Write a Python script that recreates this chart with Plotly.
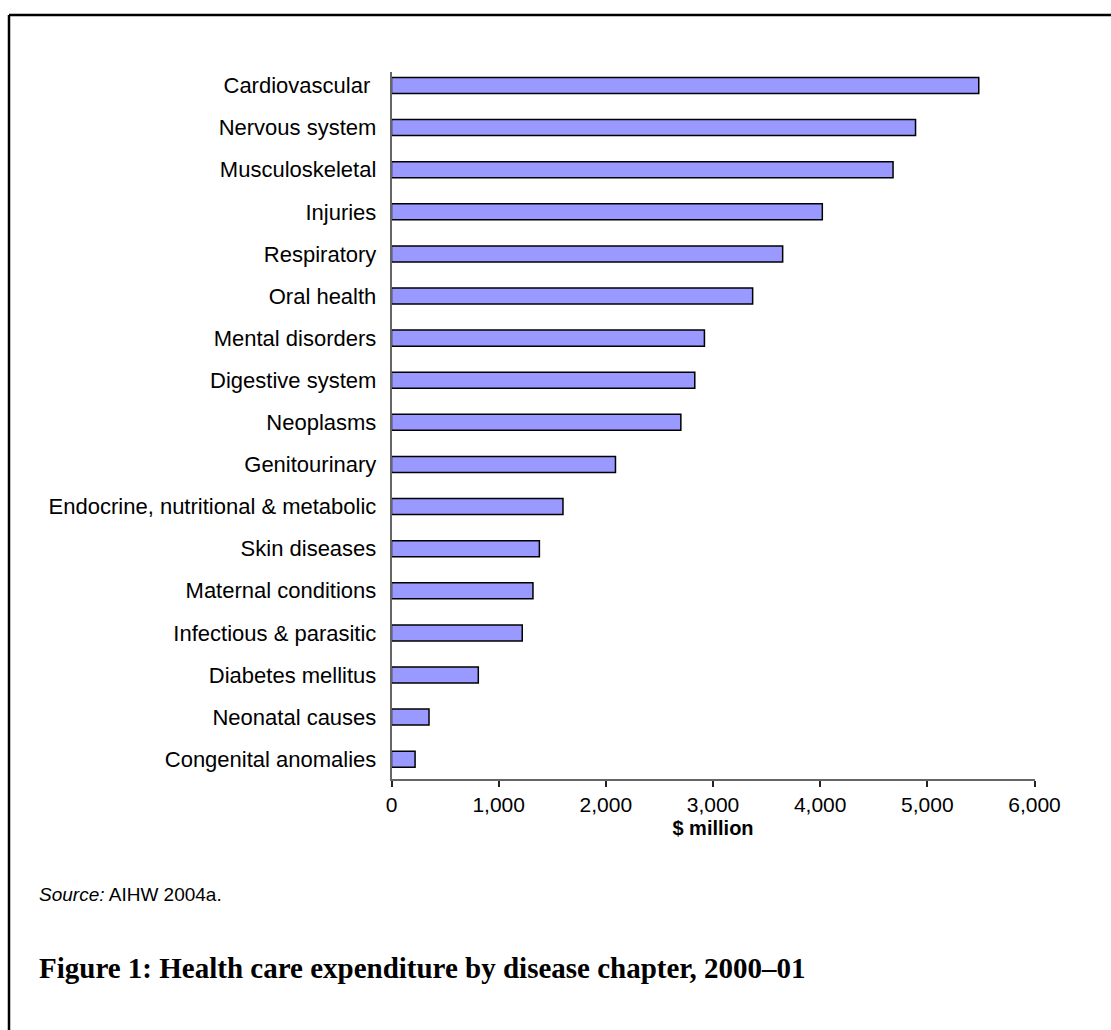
import plotly.graph_objects as go

categories = [
    "Cardiovascular ", "Nervous system", "Musculoskeletal", "Injuries", "Respiratory",
    "Oral health", "Mental disorders", "Digestive system", "Neoplasms", "Genitourinary",
    "Endocrine, nutritional & metabolic", "Skin diseases", "Maternal conditions",
    "Infectious & parasitic", "Diabetes mellitus", "Neonatal causes", "Congenital anomalies",
]
values = [5480, 4890, 4680, 4020, 3650, 3370, 2920, 2830, 2700, 2090,
          1600, 1380, 1320, 1220, 810, 350, 220]
tick_vals = [0, 1000, 2000, 3000, 4000, 5000, 6000]
tick_text = ["0", "1,000", "2,000", "3,000", "4,000", "5,000", "6,000"]

W, H = 1111, 1030
cats_plot = categories[::-1]
vals_plot = values[::-1]

fig = go.Figure(go.Bar(
    x=vals_plot, y=cats_plot, orientation="h",
    width=0.38,
    marker=dict(color="#9999FF", line=dict(color="#000000", width=1.5)),
    hoverinfo="x+y",
))

x0, x1 = 391.5, 1034.5
ytop, ybot = 72, 779

fig.update_layout(
    width=W, height=H,
    margin=dict(l=0, r=0, t=0, b=0),
    paper_bgcolor="white", plot_bgcolor="white",
    showlegend=False,
    font=dict(family="Liberation Sans, Arial, sans-serif", color="#000000"),
    xaxis=dict(
        domain=[x0 / W, x1 / W], range=[0, 6000],
        tickvals=tick_vals, ticktext=tick_text,
        showgrid=False, zeroline=False,
        showline=True, linecolor="#666666", linewidth=1.5,
        ticks="outside", ticklen=6, tickwidth=1.5, tickcolor="#222222",
        tickfont=dict(size=21), automargin=False,
        title=dict(text="<b>$ million</b>", font=dict(size=20), standoff=6),
    ),
    yaxis=dict(
        domain=[(H - ybot) / H, (H - ytop) / H],
        type="category", categoryorder="array", categoryarray=cats_plot,
        range=[-0.47, 16.32],
        showgrid=False, zeroline=False,
        showline=True, linecolor="#666666", linewidth=1.5,
        ticks="", ticklabelstandoff=9,
        tickfont=dict(size=22), automargin=False,
    ),
)

# frame
fig.add_shape(type="line", xref="paper", yref="paper",
              x0=9 / W, x1=1.0, y0=(H - 15) / H, y1=(H - 15) / H,
              line=dict(color="#000000", width=2.5))
fig.add_shape(type="line", xref="paper", yref="paper",
              x0=9 / W, x1=9 / W, y0=0, y1=(H - 15) / H,
              line=dict(color="#000000", width=2.5))

fig.add_annotation(xref="paper", yref="paper", x=37 / W, y=(H - 894) / H,
                   xanchor="left", yanchor="middle", showarrow=False,
                   text="<i>Source:</i> AIHW 2004a.",
                   font=dict(size=19, family="Liberation Sans, Arial, sans-serif"))
fig.add_annotation(xref="paper", yref="paper", x=37 / W, y=(H - 968) / H,
                   xanchor="left", yanchor="middle", showarrow=False,
                   text="<b>Figure 1: Health care expenditure by disease chapter, 2000–01</b>",
                   font=dict(size=29, family="Liberation Serif, Times New Roman, serif"))

fig.write_html("out.html")
